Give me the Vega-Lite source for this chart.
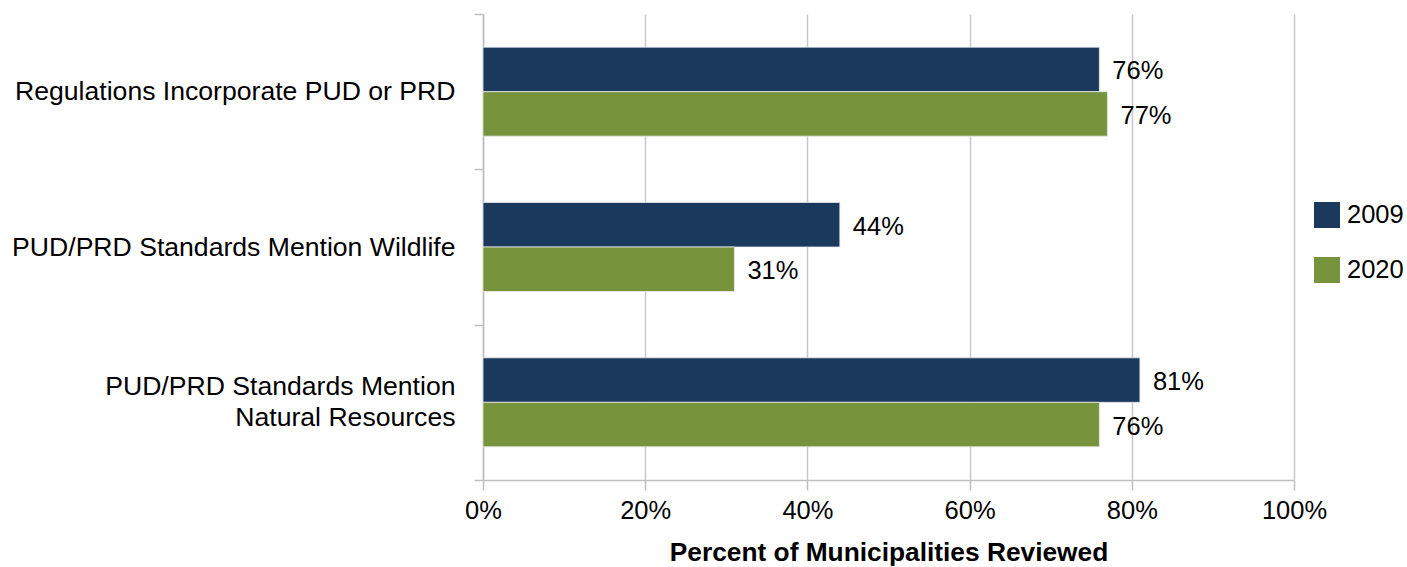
{
  "$schema": "https://vega.github.io/schema/vega-lite/v6.json",
  "width": 811,
  "height": 466,
  "autosize": {"type": "none"},
  "padding": {"left": 483, "top": 14, "right": 113, "bottom": 87},
  "background": "white",
  "config": {
    "font": "Liberation Sans",
    "view": {"stroke": null}
  },
  "data": {
    "values": [
      {"category": "Regulations Incorporate PUD or PRD", "year": "2009", "value": 76, "label": "76%"},
      {"category": "Regulations Incorporate PUD or PRD", "year": "2020", "value": 77, "label": "77%"},
      {"category": "PUD/PRD Standards Mention Wildlife", "year": "2009", "value": 44, "label": "44%"},
      {"category": "PUD/PRD Standards Mention Wildlife", "year": "2020", "value": 31, "label": "31%"},
      {"category": "PUD/PRD Standards Mention Natural Resources", "year": "2009", "value": 81, "label": "81%"},
      {"category": "PUD/PRD Standards Mention Natural Resources", "year": "2020", "value": 76, "label": "76%"}
    ]
  },
  "encoding": {
    "y": {
      "field": "category",
      "type": "nominal",
      "sort": null,
      "scale": {"paddingInner": 0, "paddingOuter": 0},
      "axis": {
        "title": null,
        "tickBand": "extent",
        "tickSize": 9,
        "tickColor": "#BFBFC4",
        "domainColor": "#BFBFC4",
        "domainWidth": 1.5,
        "tickWidth": 1.5,
        "labelPadding": 19,
        "labelFontSize": 26.6,
        "labelColor": "#000000",
        "labelLimit": 600,
        "labelLineHeight": 31,
        "labelBaseline": "middle",
        "labelOffset": {"condition": {"test": "datum.value == 'PUD/PRD Standards Mention Natural Resources'", "value": -16}, "value": 0},
        "labelExpr": "datum.label == 'PUD/PRD Standards Mention Natural Resources' ? ['PUD/PRD Standards Mention', 'Natural Resources'] : datum.label"
      }
    },
    "yOffset": {
      "field": "year",
      "type": "nominal",
      "scale": {"paddingInner": 0, "paddingOuter": 0.745}
    },
    "x": {
      "field": "value",
      "type": "quantitative",
      "scale": {"domain": [0, 100]},
      "axis": {
        "title": "Percent of Municipalities Reviewed",
        "titleFontSize": 26.3,
        "titleFontWeight": "bold",
        "titleColor": "#000000",
        "titlePadding": 16,
        "values": [0, 20, 40, 60, 80, 100],
        "labelExpr": "datum.value + '%'",
        "labelFlush": false,
        "labelFontSize": 25.5,
        "labelColor": "#000000",
        "labelPadding": 8,
        "tickSize": 10,
        "tickWidth": 1.5,
        "tickColor": "#BFBFC4",
        "domainColor": "#BFBFC4",
        "domainWidth": 1.5,
        "grid": true,
        "gridColor": "#C8C8CC",
        "gridWidth": 1.5
      }
    }
  },
  "layer": [
    {
      "mark": {"type": "bar", "stroke": "#E8E8EC", "strokeWidth": 0.8},
      "encoding": {
        "color": {
          "field": "year",
          "type": "nominal",
          "scale": {"domain": ["2009", "2020"], "range": ["#1B385D", "#77933C"]},
          "legend": {
            "title": null,
            "orient": "none",
            "legendX": 831,
            "legendY": 188,
            "symbolType": "square",
            "symbolSize": 676,
            "symbolStrokeWidth": 0,
            "symbolOpacity": 1,
            "labelFontSize": 25.5,
            "labelColor": "#000000",
            "labelOffset": 7,
            "rowPadding": 28
          }
        }
      }
    },
    {
      "mark": {"type": "text", "align": "left", "baseline": "middle", "dx": 13, "dy": 2, "fontSize": 25.5, "color": "#000000"},
      "encoding": {
        "text": {"field": "label", "type": "nominal"}
      }
    }
  ]
}
